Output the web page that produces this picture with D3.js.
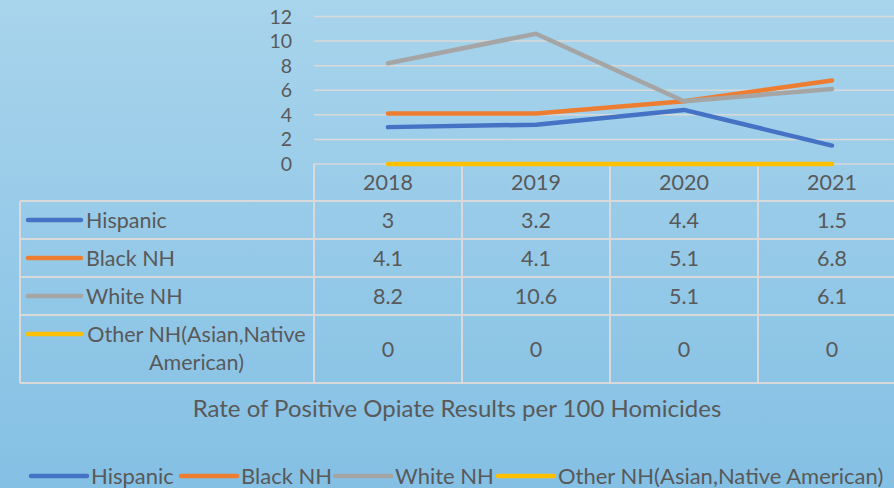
<!DOCTYPE html>
<html>
<head>
<meta charset="utf-8">
<script src="https://cdn.jsdelivr.net/npm/d3@7"></script>
<style>
  body { margin: 0; }
  svg { display: block; font-family: Lato, sans-serif; }
</style>
</head>
<body>
<svg width="894" height="488"></svg>
<script>
const years = ['2018', '2019', '2020', '2021'];
const hispanic = [3, 3.2, 4.4, 1.5];
const blackNH = [4.1, 4.1, 5.1, 6.8];
const whiteNH = [8.2, 10.6, 5.1, 6.1];
const otherNH = [0, 0, 0, 0];
const seriesNames = ['Hispanic', 'Black NH', 'White NH', 'Other NH(Asian,Native American)'];
const seriesColors = ['#4472c4', '#ed7d31', '#a5a5a5', '#ffc000'];
const yTicks = [0, 2, 4, 6, 8, 10, 12];
const title = 'Rate of Positive Opiate Results per 100 Homicides';

const series = [hispanic, blackNH, whiteNH, otherNH].map((values, i) => ({
    name: seriesNames[i],
    color: seriesColors[i],
    values: values
}));

const W = 894, H = 488;
const textColor = '#595959';
const gridColor = '#d9d9d9';
const cellFont = 21.5;

const svg = d3.select('svg');

// background
const grad = svg.append('defs').append('linearGradient')
    .attr('id', 'bg').attr('x1', 0).attr('y1', 0).attr('x2', 0).attr('y2', 1);
grad.append('stop').attr('offset', '0%').attr('stop-color', '#a8d4ec');
grad.append('stop').attr('offset', '100%').attr('stop-color', '#84c0e4');
svg.append('rect').attr('width', W).attr('height', H).attr('fill', 'url(#bg)');

// ----------------------------------------------------------
//                      scales
// ----------------------------------------------------------
const plotLeft = 314, plotRight = 906;
const yScale = d3.scaleLinear()
    .domain([0, 12])
    .range([164, 16.5]);

const xScale = d3.scaleBand()
    .domain(years)
    .range([plotLeft, plotRight])
    .padding(0);
const xc = (d) => xScale(d) + xScale.bandwidth() / 2;

// gridlines + y labels
svg.append('g').selectAll('line')
    .data(yTicks)
    .join('line')
    .attr('x1', plotLeft).attr('x2', W)
    .attr('y1', (d) => yScale(d)).attr('y2', (d) => yScale(d))
    .attr('stroke', gridColor).attr('stroke-width', 1.5);

svg.append('g').selectAll('text')
    .data(yTicks)
    .join('text')
    .attr('x', 292)
    .attr('y', (d) => yScale(d))
    .attr('dy', '0.36em')
    .attr('text-anchor', 'end')
    .attr('font-size', 19.5)
    .attr('fill', textColor)
    .text((d) => d);

// ----------------------------------------------------------
//                      data table
// ----------------------------------------------------------
const tableLeft = 20;
const rowEdges = [164, 201, 239, 277, 315, 383];
const table = svg.append('g')
    .attr('stroke', gridColor).attr('stroke-width', 2).attr('fill', 'none');

// horizontal lines
rowEdges.slice(1).forEach((y) => {
    table.append('line').attr('x1', tableLeft).attr('x2', W).attr('y1', y).attr('y2', y);
});
// left border
table.append('line').attr('x1', tableLeft).attr('x2', tableLeft)
    .attr('y1', rowEdges[1]).attr('y2', rowEdges[5]);
// column dividers
years.forEach((yr) => {
    table.append('line').attr('x1', xScale(yr)).attr('x2', xScale(yr))
        .attr('y1', rowEdges[0]).attr('y2', rowEdges[5]);
});

// header years
svg.append('g').selectAll('text')
    .data(years)
    .join('text')
    .attr('x', xc)
    .attr('y', (rowEdges[0] + rowEdges[1]) / 2)
    .attr('dy', '0.36em')
    .attr('text-anchor', 'middle')
    .attr('font-size', cellFont)
    .attr('fill', textColor)
    .text((d) => d);

// rows
series.forEach((s, i) => {
    const top = rowEdges[i + 1], bottom = rowEdges[i + 2];
    const mid = (top + bottom) / 2;
    const row = svg.append('g');
    const keyY = i === 3 ? top + 19 : mid;
    row.append('line')
        .attr('x1', 28).attr('x2', 81)
        .attr('y1', keyY).attr('y2', keyY)
        .attr('stroke', s.color).attr('stroke-width', 4.5)
        .attr('stroke-linecap', 'round');
    if (i === 3) {
        const t = row.append('text')
            .attr('text-anchor', 'middle')
            .attr('font-size', cellFont)
            .attr('fill', textColor);
        t.append('tspan').attr('x', 196.5).attr('y', top + 19).attr('dy', '0.36em')
            .text('Other NH(Asian,Native');
        t.append('tspan').attr('x', 196.5).attr('y', top + 47).attr('dy', '0.36em')
            .text('American)');
    } else {
        row.append('text')
            .attr('x', 86).attr('y', mid).attr('dy', '0.36em')
            .attr('font-size', cellFont)
            .attr('fill', textColor)
            .text(s.name);
    }
    row.selectAll('text.val')
        .data(s.values)
        .join('text')
        .attr('class', 'val')
        .attr('x', (d, j) => xc(years[j]))
        .attr('y', mid)
        .attr('dy', '0.36em')
        .attr('text-anchor', 'middle')
        .attr('font-size', cellFont)
        .attr('fill', textColor)
        .text((d) => d);
});

// ----------------------------------------------------------
//                      lines
// ----------------------------------------------------------
const line = d3.line()
    .x((d, j) => xc(years[j]))
    .y((d) => yScale(d));

svg.append('g').selectAll('path')
    .data(series)
    .join('path')
    .attr('d', (d) => line(d.values))
    .attr('fill', 'none')
    .attr('stroke', (d) => d.color)
    .attr('stroke-width', 4.5)
    .attr('stroke-linecap', 'round')
    .attr('stroke-linejoin', 'round');

// title
svg.append('text')
    .attr('x', 457).attr('y', 408)
    .attr('dy', '0.36em')
    .attr('text-anchor', 'middle')
    .attr('font-size', 24)
    .attr('fill', textColor)
    .text(title);

// ----------------------------------------------------------
//                      legend
// ----------------------------------------------------------
const legendX = [31, 181, 335, 498];
const legend = svg.append('g').selectAll('g')
    .data(series)
    .join('g')
    .attr('transform', (d, i) => `translate(${legendX[i]}, 476)`);
legend.append('line')
    .attr('x1', 0).attr('x2', 56)
    .attr('stroke', (d) => d.color).attr('stroke-width', 4.5)
    .attr('stroke-linecap', 'round');
legend.append('text')
    .attr('x', 60).attr('dy', '0.36em')
    .attr('font-size', 22)
    .attr('fill', textColor)
    .text((d) => d.name);
</script>
</body>
</html>
